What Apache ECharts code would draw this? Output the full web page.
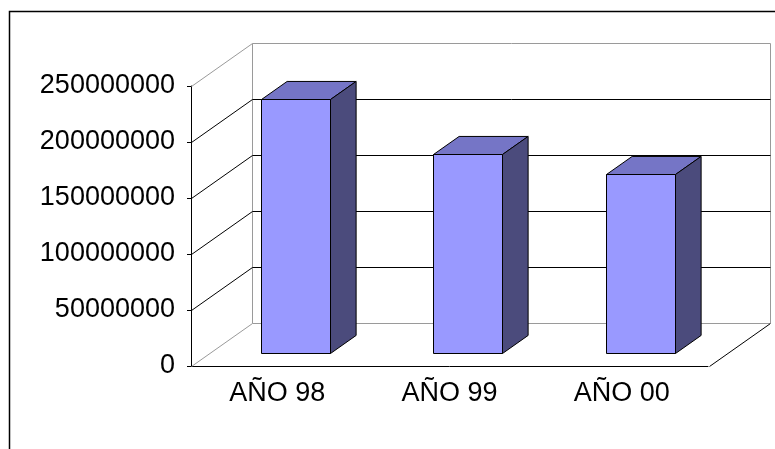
<!DOCTYPE html>
<html>
<head>
<meta charset="utf-8">
<script src="https://cdn.jsdelivr.net/npm/echarts@6/dist/echarts.min.js"></script>
<style>
  html, body { margin: 0; padding: 0; background: #fff; }
  #chart { width: 775px; height: 449px; }
</style>
</head>
<body>
<div id="chart"></div>
<script>
// Annual totals
const categories = ['AÑO 98', 'AÑO 99', 'AÑO 00'];
const values = [227000000, 178000000, 160000000];
const yTicks = [0, 50000000, 100000000, 150000000, 200000000, 250000000];

// 3D look: depth vector of the walls and where the bars sit inside it
const DEPTH = [61, -43];
const BAR_FRONT = 0.30;
const BAR_BACK = 0.72;
const BAR_WIDTH = 0.40;

const FONT = 'Liberation Sans, Arial, sans-serif';

function line(x1, y1, x2, y2, color) {
  return {
    type: 'line',
    shape: { x1: x1, y1: y1, x2: x2, y2: y2 },
    style: { stroke: color, lineWidth: 1 },
    silent: true
  };
}

// Walls, floor and gridlines, one item per tick value
function renderWalls(params, api) {
  const v = api.value(0);
  const p = api.coord([0, v]);
  const band = api.size([1, 0])[0];
  const xL = Math.round(p[0] - band / 2) + 0.5;
  const xR = Math.round(xL + band * categories.length) + 0.5;
  const y = Math.round(p[1]) + 0.5;
  const isEdge = (v === yTicks[0] || v === yTicks[yTicks.length - 1]);
  const col = isEdge ? '#9a9a9a' : '#000';
  const children = [];
  // left wall
  children.push(line(xL, y, xL + DEPTH[0], y + DEPTH[1], col));
  // back wall
  children.push(line(xL + DEPTH[0], y + DEPTH[1], xR + DEPTH[0], y + DEPTH[1], col));
  if (v === yTicks[0]) {
    // right edge of floor
    children.push(line(xR, y, xR + DEPTH[0], y + DEPTH[1], '#000'));
    const yTop = Math.round(api.coord([0, yTicks[yTicks.length - 1]])[1]) + 0.5;
    children.push(line(xL + DEPTH[0], y + DEPTH[1], xL + DEPTH[0], yTop + DEPTH[1], '#9a9a9a'));
    children.push(line(xR + DEPTH[0], y + DEPTH[1], xR + DEPTH[0], yTop + DEPTH[1], '#9a9a9a'));
  }
  return { type: 'group', children: children };
}

// Box-shaped bars: front, top and right faces
function renderBars(params, api) {
  const i = api.value(0);
  const v = api.value(1);
  const base = api.coord([i, 0]);
  const top = api.coord([i, v]);
  const band = api.size([1, 0])[0];
  const w = band * BAR_WIDTH;
  const fx = DEPTH[0] * BAR_FRONT, fy = DEPTH[1] * BAR_FRONT;
  const bx = DEPTH[0] * BAR_BACK, by = DEPTH[1] * BAR_BACK;
  const x1 = Math.round(base[0] - w / 2 + fx) + 0.5;
  const x2 = Math.round(base[0] + w / 2 + fx) + 0.5;
  const yb = Math.round(base[1] + fy) + 0.5;
  const yt = Math.round(top[1] + fy) + 0.5;
  const dx = bx - fx, dy = by - fy;
  const edge = { stroke: '#000', lineWidth: 1, lineJoin: 'miter' };
  return {
    type: 'group',
    children: [
      {
        type: 'polygon',
        shape: { points: [[x1, yt], [x2, yt], [x2 + dx, yt + dy], [x1 + dx, yt + dy]] },
        style: Object.assign({ fill: '#7575c6' }, edge)
      },
      {
        type: 'polygon',
        shape: { points: [[x2, yt], [x2 + dx, yt + dy], [x2 + dx, yb + dy], [x2, yb]] },
        style: Object.assign({ fill: '#4b4b7c' }, edge)
      },
      {
        type: 'polygon',
        shape: { points: [[x1, yt], [x2, yt], [x2, yb], [x1, yb]] },
        style: Object.assign({ fill: '#9999ff' }, edge)
      }
    ]
  };
}

const chart = echarts.init(document.getElementById('chart'), null, { renderer: 'canvas' });

chart.setOption({
  backgroundColor: '#fff',
  animation: false,
  graphic: [{
    type: 'rect',
    shape: { x: 9.5, y: 11.5, width: 800, height: 500 },
    style: { fill: 'none', stroke: '#000', lineWidth: 1.5 },
    silent: true
  }],
  grid: {
    left: 191, right: 67, top: 86, bottom: 83,
    outerBoundsMode: 'none'
  },
  xAxis: {
    type: 'category',
    data: categories,
    boundaryGap: true,
    axisLine: { lineStyle: { color: '#000', width: 1 } },
    axisTick: { alignWithLabel: false, length: 4, lineStyle: { color: '#000' } },
    axisLabel: { color: '#000', fontSize: 27, fontFamily: FONT, margin: 14 },
    splitLine: { show: false }
  },
  yAxis: {
    type: 'value',
    min: 0,
    max: 250000000,
    interval: 50000000,
    axisLine: { show: true, lineStyle: { color: '#000', width: 1 } },
    axisTick: { show: true, length: 4, lineStyle: { color: '#000' } },
    axisLabel: {
      color: '#000', fontSize: 27, fontFamily: FONT, margin: 16,
      formatter: function (val) { return String(val); }
    },
    splitLine: { show: false }
  },
  series: [
    {
      type: 'custom',
      renderItem: renderWalls,
      data: yTicks.map(function (t) { return [t]; }),
      encode: { y: 0 },
      clip: false,
      z: 1,
      silent: true
    },
    {
      type: 'custom',
      renderItem: renderBars,
      data: values.map(function (v, i) { return [i, v]; }),
      encode: { x: 0, y: 1 },
      clip: false,
      z: 3,
      silent: true
    }
  ]
});
</script>
</body>
</html>
